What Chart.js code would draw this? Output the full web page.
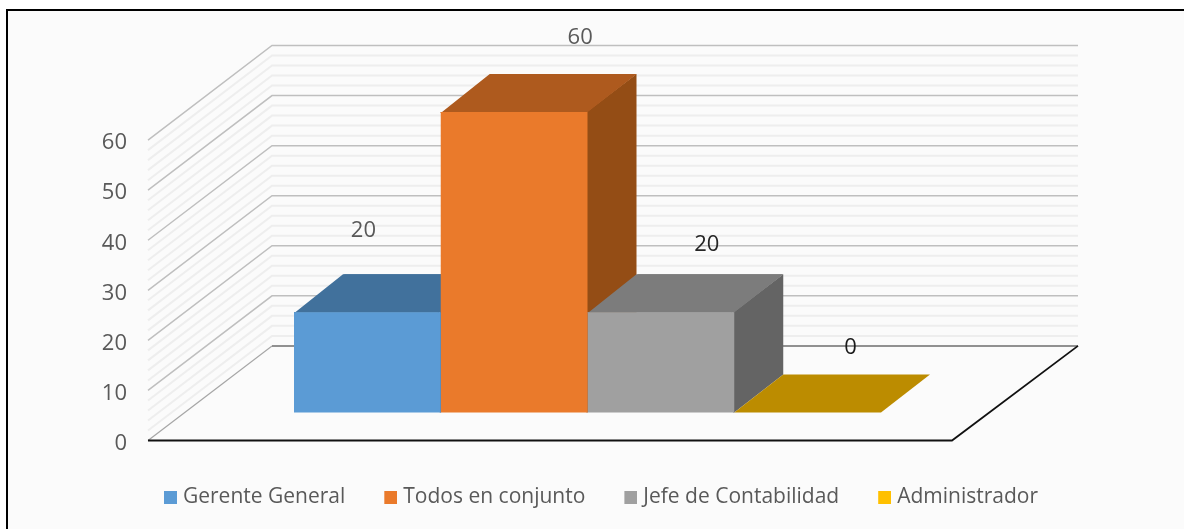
<!DOCTYPE html>
<html><head><meta charset="utf-8">
<style>
html,body{margin:0;padding:0;background:#fff;overflow:hidden}
#frame{position:absolute;left:6px;top:9px;width:1200px;height:560px;background:#fbfbfb;border:2px solid #000;box-sizing:border-box}
#wrap{position:absolute;left:0;top:0;width:1184px;height:529px}
</style>
<script src="https://cdn.jsdelivr.net/npm/chart.js@4/dist/chart.umd.min.js"></script>
</head><body>
<div id="frame"></div>
<div id="wrap"><canvas id="c" width="1184" height="529"></canvas></div>
<script>
const seriesNames = ['Gerente General','Todos en conjunto','Jefe de Contabilidad','Administrador'];
const seriesValues = [20,60,20,0];
const categories = [''];
const frontColors = ['#5B9BD5','#EA7A2B','#A0A0A0','#FFC000'];
const topColors = ['#41719C','#AE5A1E','#7C7C7C','#BC8C00'];
const sideColors = ['#34597C','#944D15','#646464','#967000'];
const labelColors = ['#595959','#595959','#262626','#1a1a1a'];
const labelShift = [[-4,-82],[66,-74],[46,-68],[43,-65]];
const valueTicks = [0,10,20,30,40,50,60];
const minorStep = 2;

const room = {dx:124, dy:-94.6, floorWidth:804, backWidth:806};
const barDepth = {dx:49, dy:-38};
const font = '"Open Sans", "Noto Sans", sans-serif';

function swatch(color){
  const c = document.createElement('canvas');
  c.width = 22; c.height = 13;
  const g = c.getContext('2d');
  g.fillStyle = color; g.fillRect(9,0,13,13);
  return c;
}
const swatches = frontColors.map(swatch);

function poly(ctx, pts, fill){
  ctx.beginPath();
  pts.forEach((p,i)=> i ? ctx.lineTo(p[0],p[1]) : ctx.moveTo(p[0],p[1]));
  ctx.closePath();
  ctx.fillStyle = fill; ctx.fill();
}
function wallLine(ctx, x0, y, color, w){
  ctx.beginPath();
  ctx.moveTo(x0, y);
  ctx.lineTo(x0+room.dx, y+room.dy);
  ctx.lineTo(x0+room.dx+room.backWidth, y+room.dy);
  ctx.strokeStyle=color; ctx.lineWidth=w; ctx.stroke();
}
const scene = {
  id:'scene',
  afterLayout(chart){
    const lg = chart.legend;
    lg.top = 452; lg.bottom = lg.top + lg.height;
    lg.left = 0; lg.right = 1197.5;
  },
  beforeDatasetsDraw(chart){
    const ctx = chart.ctx, y = chart.scales.yWall, x0 = chart.chartArea.left;
    ctx.save();
    const top = valueTicks[valueTicks.length-1];
    for(let v=0; v<=top; v+=minorStep){
      if(v%10!==0) wallLine(ctx,x0,y.getPixelForValue(v),'#eeeeee',2);
    }
    for(const v of valueTicks){
      if(v!==0) wallLine(ctx,x0,y.getPixelForValue(v),'#bfbfbf',1.5);
    }
    const y0 = y.getPixelForValue(0);
    ctx.beginPath();
    ctx.moveTo(x0,y0); ctx.lineTo(x0+room.dx,y0+room.dy);
    ctx.strokeStyle='#a6a6a6'; ctx.lineWidth=1.2; ctx.stroke();
    ctx.beginPath();
    ctx.moveTo(x0+room.dx,y0+room.dy); ctx.lineTo(x0+room.dx+room.backWidth,y0+room.dy);
    ctx.strokeStyle='#6e6e6e'; ctx.lineWidth=1.5; ctx.stroke();
    ctx.beginPath();
    ctx.moveTo(x0,y0); ctx.lineTo(x0+room.floorWidth,y0);
    ctx.lineTo(x0+room.dx+room.backWidth,y0+room.dy);
    ctx.strokeStyle='#111'; ctx.lineWidth=1.8; ctx.stroke();
    seriesValues.forEach((val,i)=>{
      const b = chart.getDatasetMeta(i).data[0];
      const l=b.x-b.width/2, r=b.x+b.width/2, t=b.y, bt=b.base;
      const dx=barDepth.dx, dy=barDepth.dy;
      if(val>0){
        poly(ctx,[[r-1,t],[r+dx,t+dy],[r+dx,bt+dy],[r,bt],[r-1,bt]],sideColors[i]);
        poly(ctx,[[l,t+1],[l,t],[r,t],[r+dx,t+dy],[l+dx,t+dy],[r,t+1]],topColors[i]);
        poly(ctx,[[l,t+1],[l,t],[r,t],[r+dx,t+dy],[l+dx,t+dy]],topColors[i]);
      } else {
        poly(ctx,[[l,t],[r,t],[r+dx,t+dy],[l+dx,t+dy]],topColors[i]);
      }
    });
    ctx.restore();
  },
  afterDatasetsDraw(chart){
    const ctx = chart.ctx;
    ctx.save();
    ctx.font = '22px '+font;
    ctx.textAlign='center'; ctx.textBaseline='middle';
    seriesValues.forEach((val,i)=>{
      const b = chart.getDatasetMeta(i).data[0];
      ctx.fillStyle = labelColors[i];
      ctx.fillText(String(val), b.x+labelShift[i][0], b.y+labelShift[i][1]);
    });
    ctx.restore();
  }
};
new Chart(document.getElementById('c'),{
  type:'bar',
  data:{
    labels:categories,
    datasets:seriesNames.map((name,i)=>({
      label:name,
      data:[seriesValues[i]],
      backgroundColor:frontColors[i],
      borderWidth:0,
      xAxisID:'x',
      yAxisID:'yBars',
      categoryPercentage:0.6678,
      barPercentage:1
    }))
  },
  options:{
    responsive:false,
    animation:false,
    events:[],
    layout:{padding:{left:0,right:157,top:45,bottom:23}},
    plugins:{
      tooltip:{enabled:false},
      legend:{
        position:'bottom',
        labels:{
          boxWidth:13,boxHeight:13,padding:34.5,usePointStyle:true,
          color:'#595959',font:{family:font,size:21},
          generateLabels(chart){
            const items = Chart.defaults.plugins.legend.labels.generateLabels(chart);
            items.forEach((it,i)=>{ it.pointStyle = swatches[i]; });
            return items;
          }
        }
      }
    },
    scales:{
      x:{display:false,grid:{display:false}},
      y:{
        position:'left',
        min:0.6,max:79.6,
        afterBuildTicks(s){ s.ticks = valueTicks.map(v=>({value:v})); },
        afterFit(s){ s.width = 148; },
        grid:{display:false},border:{display:false},
        ticks:{padding:13,color:'#595959',font:{family:font,size:22},autoSkip:false}
      },
      yWall:{display:false,min:0,max:79,grid:{display:false}},
      yBars:{display:false,min:-5.6,max:73.4,grid:{display:false}}
    }
  },
  plugins:[scene]
});
</script>
</body></html>
